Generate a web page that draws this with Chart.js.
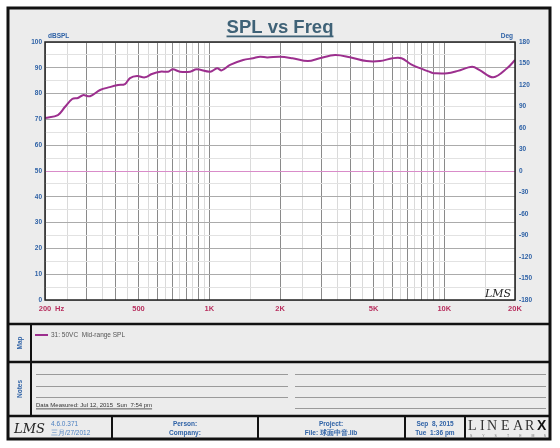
<!DOCTYPE html>
<html>
<head>
<meta charset="utf-8">
<script src="https://cdn.jsdelivr.net/npm/chart.js@4"></script>
<style>
  body { margin: 0; background: #fff; }
  canvas { display: block; }
</style>
</head>
<body>
<canvas id="splChart" width="560" height="448"></canvas>
<script>
/* =========================
   Data
========================= */
const freqs = [200, 227, 243, 261, 276, 290, 311, 343, 377, 409, 438, 460, 493, 532, 570, 619, 668, 700, 750, 829, 883, 1009, 1080, 1130, 1226, 1394, 1535, 1646, 1764, 2000, 2260, 2630, 2950, 3430, 3970, 4670, 5330, 6030, 6580, 7300, 8860, 9000, 10300, 11420, 13150, 14150, 16170, 18500, 20000];
const spl = [70.5, 71.7, 74.8, 77.9, 78.3, 79.4, 79.0, 81.4, 82.5, 83.3, 83.7, 86.0, 86.8, 86.3, 87.6, 88.5, 88.5, 89.4, 88.5, 88.5, 89.4, 88.5, 89.8, 89.0, 91.1, 93.0, 93.7, 94.3, 94.0, 94.3, 93.7, 92.6, 93.7, 95.0, 94.1, 92.6, 92.6, 93.7, 93.7, 91.1, 88.1, 87.9, 87.9, 88.8, 90.4, 89.1, 86.3, 89.8, 93.0];

const xGridValues = [200, 250, 300, 350, 400, 450, 500, 550, 600, 650, 700, 750, 800, 850, 900, 950, 1000, 1500, 2000, 2500, 3000, 3500, 4000, 4500, 5000, 5500, 6000, 6500, 7000, 7500, 8000, 8500, 9000, 9500, 10000, 15000, 20000];
const xTickLabels = { 200: "200", 500: "500", 1000: "1K", 2000: "2K", 5000: "5K", 10000: "10K", 20000: "20K" };
const legendLabel = "31: 50VC  Mid-range SPL";

/* =========================
   Helpers
========================= */
function isMajorFreq(v) {
    const p = Math.pow(10, Math.floor(Math.log10(v)));
    return Math.abs(v / p - Math.round(v / p)) < 1e-6;
}

const BLUE = "#2f62a6";
const RED = "#b8305f";
const LINE = "#9c2f8e";
const SANS = "'Liberation Sans', Arial, sans-serif";

/* =========================
   Frame / page plugin
========================= */
const pagePlugin = {
    id: "page",
    beforeDraw(chart) {
        const c = chart.ctx;
        const a = chart.chartArea;
        c.save();
        c.fillStyle = "#fff";
        c.fillRect(0, 0, chart.width, chart.height);
        c.fillStyle = "#ececec";
        c.fillRect(8, 8, 542, 431);
        c.fillStyle = "#fff";
        c.fillRect(a.left, a.top, a.right - a.left, a.bottom - a.top);
        c.restore();
    },
    afterDraw(chart) {
        const c = chart.ctx;
        const a = chart.chartArea;
        c.save();

        // plot border
        c.strokeStyle = "#222";
        c.lineWidth = 1.5;
        c.strokeRect(a.left, a.top, a.right - a.left, a.bottom - a.top);

        // title
        c.fillStyle = "#3f6277";
        c.font = "bold 18.5px " + SANS;
        c.textAlign = "center";
        c.textBaseline = "alphabetic";
        c.fillText("SPL vs Freq", 280, 33);
        const tw = c.measureText("SPL vs Freq").width;
        c.fillRect(280 - tw / 2, 35.5, tw, 1.8);

        // axis units
        c.fillStyle = BLUE;
        c.font = "bold 6.5px " + SANS;
        c.textAlign = "left";
        c.fillText("dBSPL", 48, 38);
        c.textAlign = "right";
        c.fillText("Deg", 513, 38);
        c.fillStyle = RED;
        c.font = "bold 7.5px " + SANS;
        c.textAlign = "left";
        c.fillText("Hz", 55, 311);

        // LMS mark in plot
        c.fillStyle = "#222";
        c.font = "italic 11px 'DejaVu Serif', serif";
        c.textAlign = "left";
        c.fillText("LMS", 485, 297);

        // frame lines
        c.strokeStyle = "#111";
        c.lineWidth = 3;
        c.strokeRect(8, 8, 542, 431);
        c.lineWidth = 2.5;
        c.beginPath();
        c.moveTo(8, 324); c.lineTo(550, 324);
        c.moveTo(8, 362); c.lineTo(550, 362);
        c.moveTo(8, 416); c.lineTo(550, 416);
        c.stroke();
        c.lineWidth = 2;
        c.beginPath();
        c.moveTo(31, 324); c.lineTo(31, 416);
        [112, 258, 405, 465].forEach(x => { c.moveTo(x, 416); c.lineTo(x, 439); });
        c.stroke();

        // side labels
        c.fillStyle = BLUE;
        c.font = "bold 6.5px " + SANS;
        c.textAlign = "center";
        c.textBaseline = "middle";
        c.save(); c.translate(20, 343); c.rotate(-Math.PI / 2); c.fillText("Map", 0, 0); c.restore();
        c.save(); c.translate(20, 389); c.rotate(-Math.PI / 2); c.fillText("Notes", 0, 0); c.restore();

        // legend
        c.strokeStyle = LINE;
        c.lineWidth = 2;
        c.beginPath(); c.moveTo(35, 335); c.lineTo(48, 335); c.stroke();
        c.fillStyle = "#555";
        c.font = "6.5px " + SANS;
        c.textAlign = "left";
        c.fillText(legendLabel, 51, 335);

        // notes lines
        c.strokeStyle = "#9a9a9a";
        c.lineWidth = 1;
        c.beginPath();
        [374, 386, 397].forEach(y => { c.moveTo(36, y + 0.5); c.lineTo(288, y + 0.5); });
        [374, 386, 397, 408].forEach(y => { c.moveTo(295, y + 0.5); c.lineTo(546, y + 0.5); });
        c.stroke();
        c.fillStyle = "#333";
        c.font = "6px " + SANS;
        c.textBaseline = "alphabetic";
        const dm = "Data Measured: Jul 12, 2015  Sun  7:54 pm";
        c.fillText(dm, 36, 407);
        c.fillRect(36, 408.5, c.measureText(dm).width, 0.8);

        // footer
        c.fillStyle = "#222";
        c.font = "italic 13px 'DejaVu Serif', serif";
        c.fillText("LMS", 14, 433);
        c.fillStyle = "#4a7fc0";
        c.font = "6.5px " + SANS;
        c.fillText("4.6.0.371", 51, 426);
        c.fillText("三月/27/2012", 51, 435);

        c.fillStyle = BLUE;
        c.font = "bold 6.5px " + SANS;
        c.textAlign = "center";
        c.fillText("Person:", 185, 426);
        c.fillText("Company:", 185, 435);
        c.fillText("Project:", 331, 426);
        c.fillText("File: 球面中音.lib", 331, 435);
        c.fillText("Sep  8, 2015", 435, 426);
        c.fillText("Tue  1:36 pm", 435, 435);

        // LinearX logo
        c.fillStyle = "#333";
        c.font = "14px 'Liberation Serif', serif";
        c.textAlign = "left";
        [["L", 468], ["I", 480], ["N", 487], ["E", 501], ["A", 513], ["R", 525]].forEach(p => c.fillText(p[0], p[1], 430));
        c.fillStyle = "#111";
        c.font = "bold 14px " + SANS;
        c.fillText("X", 537, 430);
        c.fillStyle = "#777";
        c.font = "3.5px " + SANS;
        "SYSTEMS".split("").forEach((ch, i) => c.fillText(ch, 470 + i * 12.3, 437));

        c.restore();
    }
};

/* =========================
   Chart
========================= */
const points = freqs.map((f, i) => ({ x: f, y: spl[i] }));

new Chart(document.getElementById("splChart"), {
    type: "line",
    data: {
        datasets: [{
            label: legendLabel,
            data: points,
            borderColor: LINE,
            borderWidth: 2,
            pointRadius: 0,
            tension: 0.35,
            fill: false,
            yAxisID: "y"
        }]
    },
    options: {
        responsive: false,
        animation: false,
        layout: { padding: { top: 42, bottom: 134, left: 0, right: 0 } },
        plugins: {
            legend: { display: false },
            title: { display: false },
            tooltip: { enabled: false }
        },
        scales: {
            x: {
                type: "logarithmic",
                min: 200,
                max: 20000,
                afterBuildTicks: s => { s.ticks = xGridValues.map(v => ({ value: v })); },
                afterFit: s => { s.height = 14; },
                border: { display: false },
                grid: {
                    drawTicks: false,
                    color: ctx => isMajorFreq(ctx.tick.value) ? "#8a8a8a" : "#dadada",
                    lineWidth: 1
                },
                ticks: {
                    autoSkip: false,
                    maxRotation: 0,
                    padding: 4,
                    color: RED,
                    font: { family: SANS, size: 7.5, weight: "bold" },
                    callback: v => xTickLabels[v] || ""
                }
            },
            y: {
                position: "left",
                min: 0,
                max: 100,
                afterFit: s => { s.width = 45; },
                border: { display: false },
                grid: {
                    drawTicks: false,
                    color: ctx => ctx.tick.value === 50 ? "#d98cc9" : (ctx.tick.value % 10 === 0 ? "#ababab" : "#e2e2e2")
                },
                ticks: {
                    stepSize: 5,
                    padding: 3,
                    color: BLUE,
                    font: { family: SANS, size: 6.5, weight: "bold" },
                    callback: v => v % 10 === 0 ? v : ""
                }
            },
            y2: {
                position: "right",
                min: -180,
                max: 180,
                afterFit: s => { s.width = 45; },
                border: { display: false },
                grid: { display: false, drawTicks: false },
                ticks: {
                    stepSize: 30,
                    padding: 4,
                    color: BLUE,
                    font: { family: SANS, size: 6.5, weight: "bold" }
                }
            }
        }
    },
    plugins: [pagePlugin]
});
</script>
</body>
</html>
